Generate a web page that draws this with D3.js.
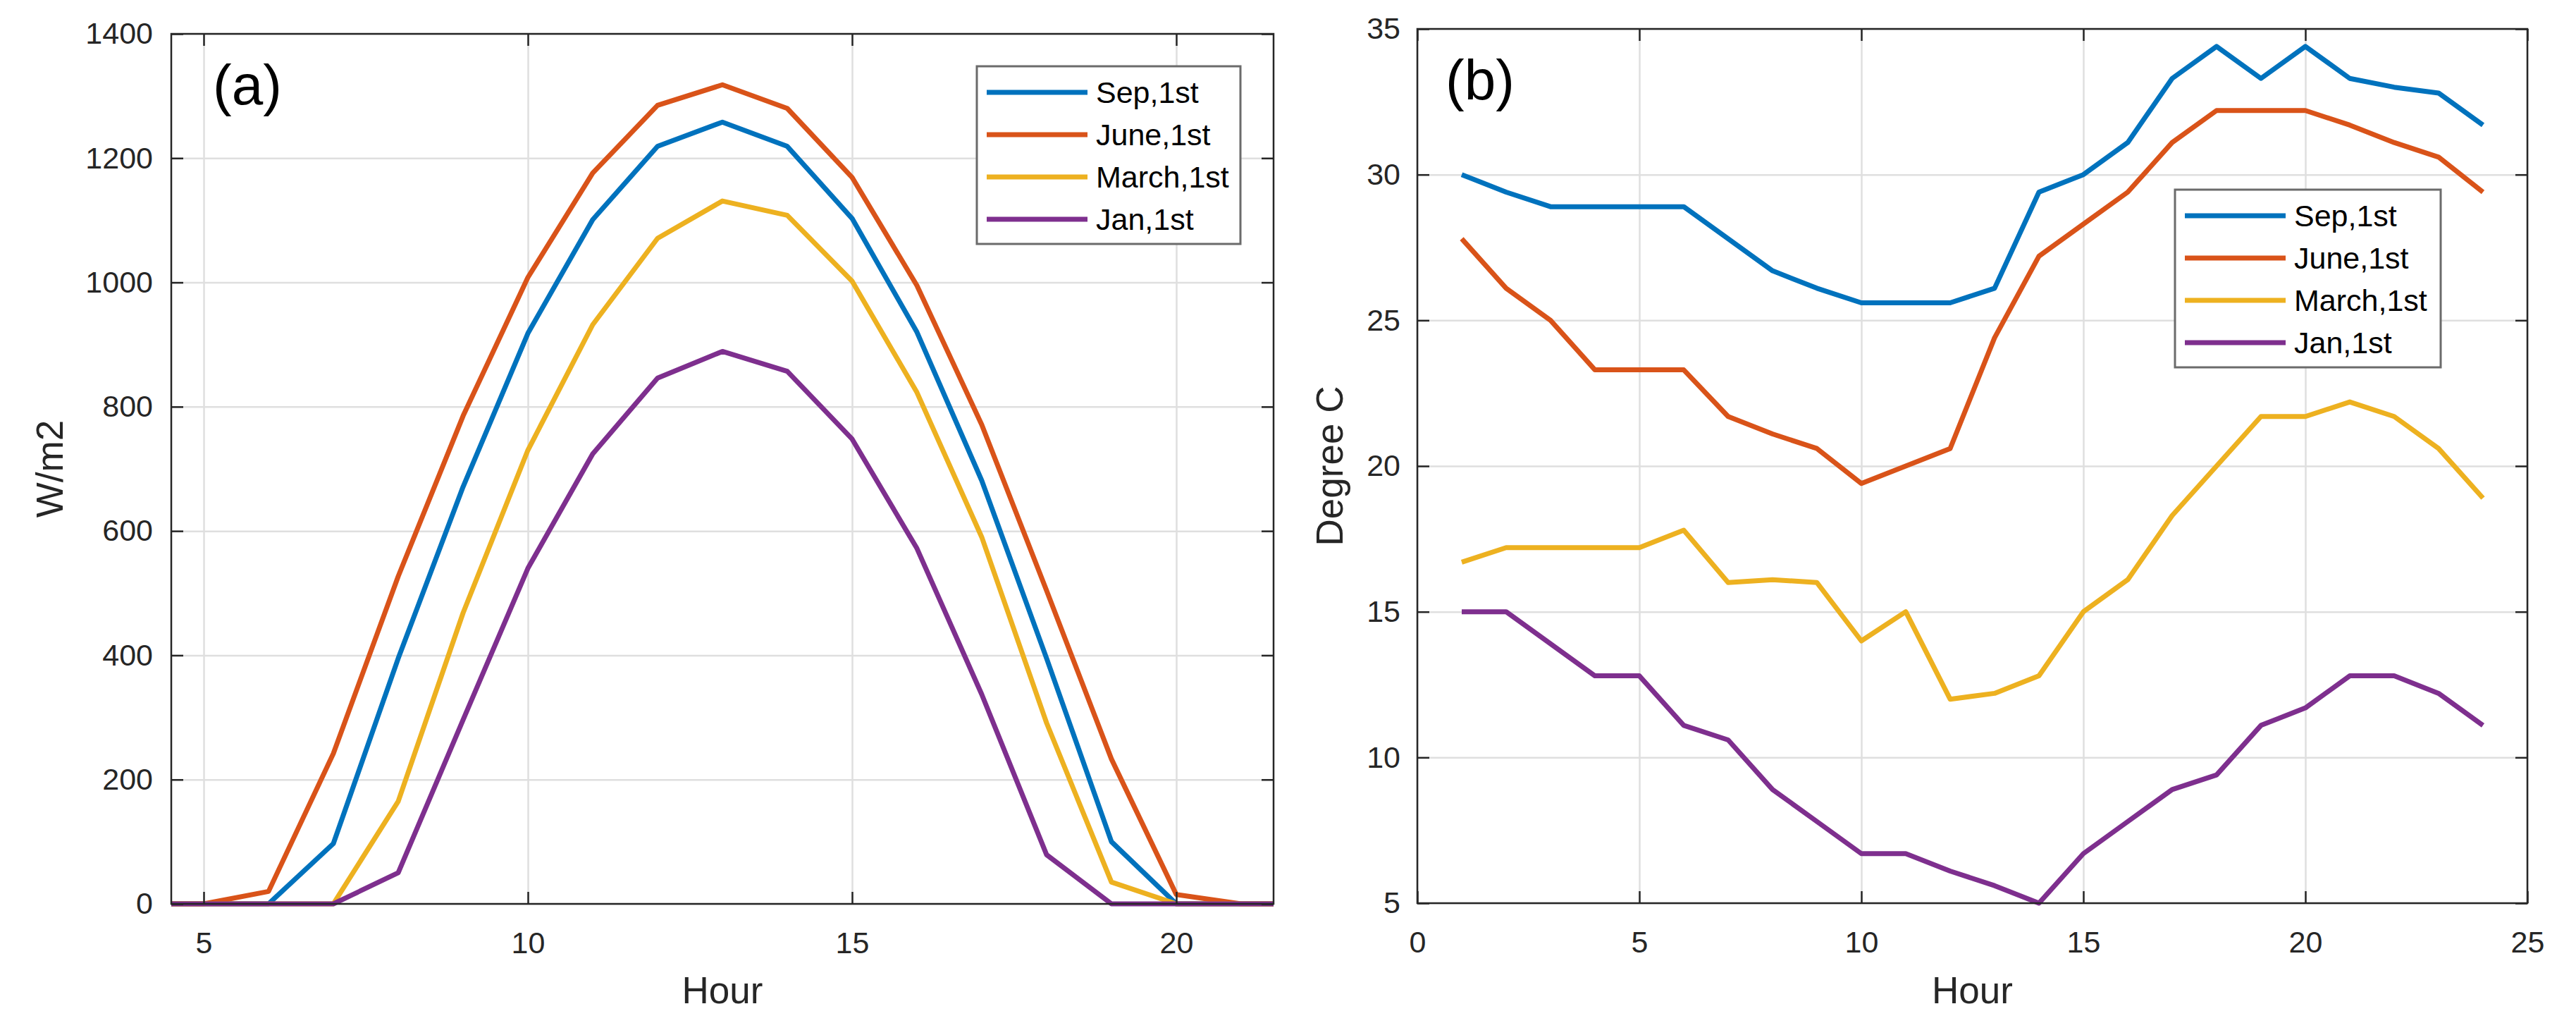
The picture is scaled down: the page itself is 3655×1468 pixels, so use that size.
<!DOCTYPE html>
<html>
<head>
<meta charset="utf-8">
<script src="https://cdn.jsdelivr.net/npm/d3@7"></script>
<style>
  html, body { margin: 0; padding: 0; background: #fff; }
  svg { display: block; }
  text { font-family: "Liberation Sans", Arial, sans-serif; fill: #262626; }
</style>
</head>
<body>
<svg id="chart" width="3655" height="1468"></svg>
<script>
// Hourly values.
const hours = d3.range(1, 25);
const seriesNames = ["Sep,1st", "June,1st", "March,1st", "Jan,1st"];
const seriesColors = ["#0072BD", "#D95319", "#EDB120", "#7E2F8E"];

// (a) solar irradiance, W/m2
const irrSep   = [0, 0, 0, 0, 0, 0, 97, 395, 671, 918, 1101, 1219, 1258, 1219, 1103, 920, 681, 395, 100, 0, 0, 0, 0, 0];
const irrJune  = [0, 0, 0, 0, 0, 20, 242, 527, 785, 1008, 1176, 1285, 1318, 1280, 1169, 995, 771, 504, 233, 15, 0, 0, 0, 0];
const irrMarch = [0, 0, 0, 0, 0, 0, 0, 165, 468, 730, 932, 1071, 1131, 1108, 1002, 823, 590, 291, 35, 0, 0, 0, 0, 0];
const irrJan   = [0, 0, 0, 0, 0, 0, 0, 50, 296, 540, 724, 846, 889, 857, 748, 572, 337, 79, 0, 0, 0, 0, 0, 0];

// (b) air temperature, Degree C
const tmpSep   = [30.0, 29.4, 28.9, 28.9, 28.9, 28.9, 27.8, 26.7, 26.1, 25.6, 25.6, 25.6, 26.1, 29.4, 30.0, 31.1, 33.3, 34.4, 33.3, 34.4, 33.3, 33.0, 32.8, 31.7];
const tmpJune  = [27.8, 26.1, 25.0, 23.3, 23.3, 23.3, 21.7, 21.1, 20.6, 19.4, 20.0, 20.6, 24.4, 27.2, 28.3, 29.4, 31.1, 32.2, 32.2, 32.2, 31.7, 31.1, 30.6, 29.4];
const tmpMarch = [16.7, 17.2, 17.2, 17.2, 17.2, 17.8, 16.0, 16.1, 16.0, 14.0, 15.0, 12.0, 12.2, 12.8, 15.0, 16.1, 18.3, 20.0, 21.7, 21.7, 22.2, 21.7, 20.6, 18.9];
const tmpJan   = [15.0, 15.0, 13.9, 12.8, 12.8, 11.1, 10.6, 8.9, 7.8, 6.7, 6.7, 6.1, 5.6, 5.0, 6.7, 7.8, 8.9, 9.4, 11.1, 11.7, 12.8, 12.8, 12.2, 11.1];

const xTicksA = [5, 10, 15, 20];
const yTicksA = d3.range(0, 1401, 200);
const xTicksB = d3.range(0, 26, 5);
const yTicksB = d3.range(5, 36, 5);

const svg = d3.select("#chart");
const TICK_FONT = 43, LABEL_FONT = 53;
const fmt = d3.format("d");

function drawPanel(p) {
  const w = p.right - p.left, h = p.bottom - p.top;
  const x = d3.scaleLinear().domain(p.xDomain).range([0, w]);
  const y = d3.scaleLinear().domain(p.yDomain).range([h, 0]);
  const g = svg.append("g").attr("transform", `translate(${p.left},${p.top})`);

  // grid
  const grid = g.append("g").attr("class", "grid");
  grid.append("g").attr("transform", `translate(0,${h})`)
    .call(d3.axisBottom(x).tickValues(p.xTicks).tickSize(-h).tickFormat(""));
  grid.append("g")
    .call(d3.axisLeft(y).tickValues(p.yTicks).tickSize(-w).tickFormat(""));
  grid.selectAll(".domain").remove();
  grid.selectAll("line").attr("stroke", "#dfdfdf").attr("stroke-width", 2.5);

  // series, clipped to the axes box
  const clipId = "clip-" + p.id;
  g.append("clipPath").attr("id", clipId)
    .append("rect").attr("x", 0).attr("y", -6).attr("width", w).attr("height", h + 12);
  const line = d3.line().x((d, i) => x(hours[i])).y(d => y(d));
  g.append("g").attr("clip-path", `url(#${clipId})`)
    .selectAll("path").data(p.series).join("path")
    .attr("d", line)
    .attr("fill", "none")
    .attr("stroke", (d, i) => seriesColors[i])
    .attr("stroke-width", 7)
    .attr("stroke-linejoin", "round");

  // inward ticks on all four sides
  const tk = 17;
  const sides = [
    [d3.axisBottom(x).tickValues(p.xTicks), `translate(0,${h})`],
    [d3.axisTop(x).tickValues(p.xTicks), "translate(0,0)"],
    [d3.axisLeft(y).tickValues(p.yTicks), "translate(0,0)"],
    [d3.axisRight(y).tickValues(p.yTicks), `translate(${w},0)`],
  ];
  sides.forEach(([ax, tr]) => {
    const a = g.append("g").attr("transform", tr)
      .call(ax.tickSizeInner(-tk).tickSizeOuter(0).tickFormat(""));
    a.select(".domain").remove();
    a.selectAll("line").attr("stroke", "#262626").attr("stroke-width", 2.5);
  });

  // tick labels
  const xl = g.append("g").attr("transform", `translate(0,${h})`)
    .call(d3.axisBottom(x).tickValues(p.xTicks).tickFormat(fmt).tickSize(0).tickPadding(39));
  const yl = g.append("g")
    .call(d3.axisLeft(y).tickValues(p.yTicks).tickFormat(fmt).tickSize(0).tickPadding(p.yPad));
  [xl, yl].forEach(a => {
    a.select(".domain").remove();
    a.selectAll("text").attr("font-size", TICK_FONT)
      .attr("font-family", '"Liberation Sans", Arial, sans-serif').attr("fill", "#262626");
  });

  // box
  g.append("rect").attr("width", w).attr("height", h)
    .attr("fill", "none").attr("stroke", "#262626").attr("stroke-width", 2.5);

  // axis titles
  g.append("text").attr("x", w / 2).attr("y", 1423 - p.top)
    .attr("text-anchor", "middle").attr("font-size", LABEL_FONT).text("Hour");
  g.append("text")
    .attr("transform", `translate(${p.yLabelX - p.left},${h / 2}) rotate(-90)`)
    .attr("text-anchor", "middle").attr("font-size", LABEL_FONT).text(p.yLabel);

  // panel tag
  g.append("text").attr("x", p.tag[0] - p.left).attr("y", p.tag[1] - p.top)
    .attr("font-size", 80).style("fill", "#000").text(p.tagText);

  // legend
  const lg = g.append("g").attr("transform", `translate(${p.legend[0] - p.left},${p.legend[1] - p.top})`);
  lg.append("rect").attr("width", p.legend[2]).attr("height", 252)
    .attr("fill", "#fff").attr("stroke", "#6b6b6b").attr("stroke-width", 3);
  const rows = lg.selectAll("g.row").data(seriesNames).join("g")
    .attr("class", "row")
    .attr("transform", (d, i) => `translate(0,${37 + i * 60})`);
  rows.append("line").attr("x1", 14).attr("x2", 157)
    .attr("stroke", (d, i) => seriesColors[i]).attr("stroke-width", 7);
  rows.append("text").attr("x", 169).attr("dy", "0.35em")
    .attr("font-size", TICK_FONT).style("fill", "#000").text(d => d);
}

drawPanel({
  id: "a", left: 243, right: 1807, top: 48, bottom: 1282,
  xDomain: [4.5, 21.5], yDomain: [0, 1400],
  xTicks: xTicksA, yTicks: yTicksA, yPad: 26,
  series: [irrSep, irrJune, irrMarch, irrJan],
  yLabel: "W/m2", yLabelX: 89,
  tag: [302, 148], tagText: "(a)",
  legend: [1386, 94, 374],
});

drawPanel({
  id: "b", left: 2011, right: 3586, top: 41, bottom: 1281,
  xDomain: [0, 25], yDomain: [5, 35],
  xTicks: xTicksB, yTicks: yTicksB, yPad: 24,
  series: [tmpSep, tmpJune, tmpMarch, tmpJan],
  yLabel: "Degree C", yLabelX: 1905,
  tag: [2051, 141], tagText: "(b)",
  legend: [3086, 269, 377],
});
</script>
</body>
</html>
